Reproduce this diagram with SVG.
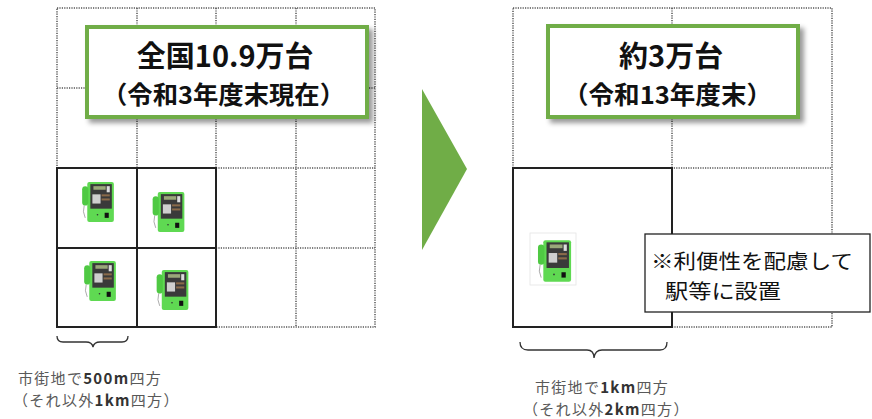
<svg xmlns="http://www.w3.org/2000/svg" width="872" height="419" viewBox="0 0 872 419">
  <style>
    .dot { fill: none; stroke: #555; stroke-width: 1.5; stroke-dasharray: 1.2 1.2; }
    .solid { fill: none; stroke: #222; stroke-width: 2; }
    .label { fill: #fff; stroke: #70AD47; stroke-width: 4; }
    .title { font-family: "Noto Sans CJK JP", "Noto Sans", sans-serif; font-weight: bold; fill: #111; }
    .note { font-family: "Noto Sans CJK JP", "Noto Sans", sans-serif; fill: #111; font-size: 20px; }
    .cap { font-family: "Noto Sans CJK JP", "Noto Sans", sans-serif; fill: #595959; font-size: 15px; letter-spacing: 1.3px; }
    .num { font-weight: bold; fill: #333; }
    .brace { fill: none; stroke: #333; stroke-width: 1.3; }
  </style>
  <defs>
    <filter id="shadow" x="-10%" y="-20%" width="130%" height="150%">
      <feDropShadow dx="4" dy="4" stdDeviation="2.5" flood-color="#000" flood-opacity="0.4"/>
    </filter>
    <!-- green public telephone -->
    <symbol id="phone" viewBox="0 0 36 44">
      <rect x="8" y="3" width="26" height="39" rx="2" fill="#5FD952"/>
      <rect x="11" y="5" width="21" height="24" fill="#3a3a3a"/>
      <rect x="14" y="7" width="12" height="3.5" fill="#9aa77a"/>
      <rect x="27" y="7" width="3" height="6" fill="#ddd"/>
      <rect x="13" y="15" width="8" height="9" fill="#cfcfcf"/>
      <rect x="22" y="15" width="8" height="2" fill="#8a6a4a"/>
      <rect x="22" y="19" width="8" height="2" fill="#8a6a4a"/>
      <rect x="3" y="7" width="6" height="19" rx="3" fill="#4FC943"/>
      <path d="M5 26 Q3 32 6 38" fill="none" stroke="#999" stroke-width="0.8"/>
      <rect x="25" y="33" width="4" height="5" fill="#111"/>
      <circle cx="18" cy="35" r="0.8" fill="#333"/>
    </symbol>
  </defs>

  <!-- left grid: 500m cells -->
  <g id="grid-left">
    <rect class="dot" x="57" y="8" width="318" height="319"/>
    <line class="dot" x1="137" y1="8" x2="137" y2="168"/>
    <line class="dot" x1="216" y1="8" x2="216" y2="168"/>
    <line class="dot" x1="296" y1="8" x2="296" y2="327"/>
    <line class="dot" x1="57" y1="88" x2="375" y2="88"/>
    <line class="dot" x1="216" y1="168" x2="375" y2="168"/>
    <line class="dot" x1="216" y1="248" x2="375" y2="248"/>
    <rect class="solid" x="57" y="168" width="159" height="159"/>
    <line class="solid" x1="137" y1="168" x2="137" y2="327"/>
    <line class="solid" x1="57" y1="248" x2="216" y2="248"/>
    <use href="#phone" x="79" y="179" width="37" height="45"/>
    <use href="#phone" x="149" y="189" width="38" height="45"/>
    <use href="#phone" x="81" y="258" width="37" height="45"/>
    <use href="#phone" x="153" y="267" width="38" height="45"/>
  </g>

  <!-- right grid: 1km cells -->
  <g id="grid-right">
    <rect class="dot" x="513" y="8" width="319" height="319"/>
    <line class="dot" x1="672" y1="8" x2="672" y2="327"/>
    <line class="dot" x1="513" y1="168" x2="832" y2="168"/>
    <rect class="solid" x="513" y="168" width="159" height="159"/>
    <rect x="530" y="233" width="46" height="52" fill="#fff" stroke="#e4e4e4" stroke-width="0.8"/>
    <use href="#phone" x="534" y="237" width="40" height="47"/>
  </g>

  <g id="label-left">
    <rect class="label" x="87" y="27" width="280" height="90" filter="url(#shadow)"/>
    <text class="title">
      <tspan x="227" y="67" font-size="29" text-anchor="middle">全国10.9万台</tspan>
      <tspan x="102" y="104" font-size="24.5" textLength="243" lengthAdjust="spacingAndGlyphs">（令和3年度末現在）</tspan>
    </text>
  </g>

  <g id="label-right">
    <rect class="label" x="548" y="26" width="250" height="91" filter="url(#shadow)"/>
    <text class="title">
      <tspan x="673" y="67" font-size="29" text-anchor="middle">約3万台</tspan>
      <tspan x="563" y="104" font-size="24.5" textLength="209" lengthAdjust="spacingAndGlyphs">（令和13年度末）</tspan>
    </text>
  </g>

  <g id="connectors">
    <polygon points="422,89 467,169 422,250" fill="#70AD47"/>
  </g>

  <g id="note">
    <rect x="645" y="234" width="225" height="78" fill="#fff" stroke="#222" stroke-width="1.3"/>
    <text class="note">
      <tspan x="651" y="269" textLength="202" lengthAdjust="spacingAndGlyphs">※利便性を配慮して</tspan>
      <tspan x="665" y="299" textLength="116" lengthAdjust="spacingAndGlyphs">駅等に設置</tspan>
    </text>
  </g>

  <g id="caption-left">
    <path class="brace" d="M57 336 Q57 342 63 342 L86 342 Q92 342 93 347 Q94 342 100 342 L122 342 Q128 342 128 336"/>
    <text class="cap">
      <tspan x="18" y="384">市街地で<tspan class="num">500m</tspan>四方</tspan>
      <tspan x="13" y="406">（それ以外<tspan class="num">1km</tspan>四方）</tspan>
    </text>
  </g>

  <g id="caption-right">
    <path class="brace" d="M520 342 Q520 350 528 350 L587 350 Q594 350 594 358 Q595 350 602 350 L660 350 Q667 350 667 342"/>
    <text class="cap">
      <tspan x="535" y="393">市街地で<tspan class="num">1km</tspan>四方</tspan>
      <tspan x="523" y="415">（それ以外<tspan class="num">2km</tspan>四方）</tspan>
    </text>
  </g>
</svg>
